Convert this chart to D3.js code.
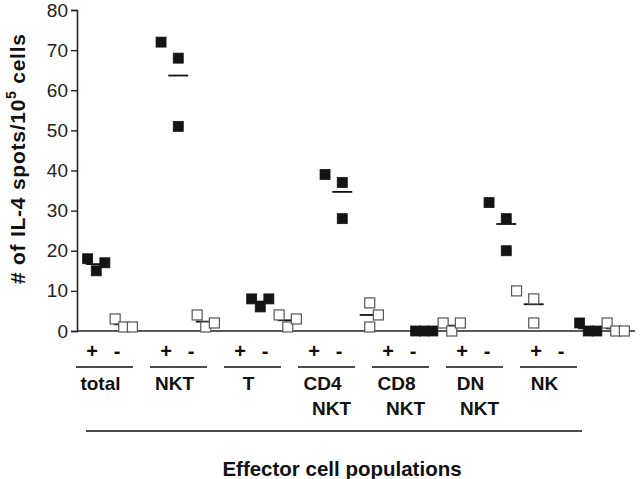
<!DOCTYPE html>
<html>
<head>
<meta charset="utf-8">
<script src="https://cdn.jsdelivr.net/npm/d3@7"></script>
<style>
  html, body { margin: 0; padding: 0; background: #fff; }
  svg { display: block; font-family: "Liberation Sans", Arial, sans-serif; }
</style>
</head>
<body>
<svg id="chart" width="640" height="479"></svg>
<script>
// ---- data ----
const groups = ["total", "NKT", "T", "CD4 NKT", "CD8 NKT", "DN NKT", "NK"];
const labelLine1 = ["total", "NKT", "T", "CD4", "CD8", "DN", "NK"];
const labelLine2 = ["", "", "", "NKT", "NKT", "NKT", ""];
const treatments = ["+", "-"];
const plusValues  = [[18, 15, 17], [72, 68, 51], [8, 6, 8], [39, 37, 28], [0, 0, 0], [32, 28, 20], [2, 0, 0]];
const minusValues = [[3, 1, 1], [4, 1, 2], [4, 1, 3], [7, 4, 1], [2, 0, 2], [10, 8, 2], [2, 0, 0]];
// horizontal spread rank of each point inside its column (scatter-dot layout)
const plusSpread  = [[-1, 0, 1], [-2, 0, 0], [-1, 0, 1], [-2, 0, 0], [-1, 0, 1], [-2, 0, 0], [-1, 0, 1]];
const minusSpread = [[-1, 0, 1], [-1, 0, 1], [-1, 0, 1], [0, 1, 0], [-1, 0, 1], [-2, 0, 0], [-1, 0, 1]];
const yTicks = [0, 10, 20, 30, 40, 50, 60, 70, 80];
const yTitle = ["# of IL-4 spots/10", "5", " cells"];
const xTitle = "Effector cell populations";

// ---- build records ----
const columns = [];
groups.forEach((g, i) => {
  columns.push({ group: g, treat: "+", values: plusValues[i], spread: plusSpread[i] });
  columns.push({ group: g, treat: "-", values: minusValues[i], spread: minusSpread[i] });
});

const svg = d3.select("#chart");
const font = '"Liberation Sans", Arial, sans-serif';

// ---- scales ----
const y = d3.scaleLinear().domain([0, 80]).range([331, 10]);
const xGroup = d3.scalePoint().domain(groups).range([110, 602]);
const xTreat = d3.scalePoint().domain(treatments).range([-13.75, 13.75]);
const xSpread = d3.scaleLinear().domain([-1, 1]).range([-8.6, 8.6]);
const colX = c => xGroup(c.group) + xTreat(c.treat);

// label row scales (annotation placed separately under the axis)
const xLabelGroup = d3.scalePoint().domain(groups).range([104.5, 548.5]);
const xLabelTreat = d3.scalePoint().domain(treatments).range([-12.5, 12.5]);

// ---- axes ----
const yAxis = d3.axisLeft(y).tickValues(yTicks).tickSize(6).tickPadding(3);
const gy = svg.append("g").attr("transform", "translate(77,0)").call(yAxis);
gy.select(".domain").attr("stroke", "#222").attr("stroke-width", 1.6);
gy.selectAll(".tick line").attr("stroke", "#222").attr("stroke-width", 1.4);
gy.selectAll(".tick text").attr("font-size", 19).attr("font-family", font).attr("fill", "#222");

// x axis baseline (no ticks)
const xLine = d3.scaleLinear().domain([0, 1]).range([77, 635]);
svg.append("line")
  .attr("x1", xLine(0)).attr("x2", xLine(1))
  .attr("y1", y(0)).attr("y2", y(0))
  .attr("stroke", "#222").attr("stroke-width", 1.6);

// ---- mean lines ----
svg.append("g").selectAll("line").data(columns).join("line")
  .attr("x1", c => colX(c) - 10).attr("x2", c => colX(c) + 10)
  .attr("y1", c => y(d3.mean(c.values))).attr("y2", c => y(d3.mean(c.values)))
  .attr("stroke", "#111").attr("stroke-width", 1.8);

// ---- points ----
const pts = [];
columns.forEach(c => c.values.forEach((v, k) => pts.push({ c, v, s: c.spread[k] })));
const sz = 10;
svg.append("g").selectAll("rect").data(pts).join("rect")
  .attr("x", d => colX(d.c) + xSpread(d.s) - sz / 2)
  .attr("y", d => y(d.v) - sz / 2)
  .attr("width", sz).attr("height", sz)
  .attr("fill", d => d.c.treat === "+" ? "#141414" : "#fff")
  .attr("stroke", d => d.c.treat === "+" ? "#141414" : "#555")
  .attr("stroke-width", d => d.c.treat === "+" ? 0.8 : 1.2);

// ---- category annotation ----
const ann = svg.append("g").attr("font-family", font).attr("font-weight", "bold").attr("fill", "#111");
groups.forEach((g, i) => {
  treatments.forEach(t => {
    ann.append("text")
      .attr("x", xLabelGroup(g) + xLabelTreat(t)).attr("y", 358)
      .attr("text-anchor", "middle").attr("font-size", 20).text(t);
  });
  ann.append("line")
    .attr("x1", xLabelGroup(g) - 28.5).attr("x2", xLabelGroup(g) + 28.5)
    .attr("y1", 367).attr("y2", 367)
    .attr("stroke", "#111").attr("stroke-width", 1.5);
  ann.append("text")
    .attr("x", xLabelGroup(g) - 4).attr("y", 389.5)
    .attr("text-anchor", "middle").attr("font-size", 19).text(labelLine1[i]);
  if (labelLine2[i]) {
    ann.append("text")
      .attr("x", xLabelGroup(g) + 5).attr("y", 415)
      .attr("text-anchor", "middle").attr("font-size", 19).text(labelLine2[i]);
  }
});

// long bracket line
svg.append("line")
  .attr("x1", 86).attr("x2", 582).attr("y1", 431).attr("y2", 431)
  .attr("stroke", "#111").attr("stroke-width", 1.5);

// x title
svg.append("text")
  .attr("x", 342).attr("y", 476)
  .attr("text-anchor", "middle")
  .attr("font-family", font).attr("font-weight", "bold").attr("font-size", 20.5)
  .attr("fill", "#111").text(xTitle);

// y title
const yt = svg.append("text")
  .attr("transform", "translate(25,159) rotate(-90)")
  .attr("text-anchor", "middle")
  .attr("font-family", font).attr("font-weight", "bold").attr("font-size", 21)
  .attr("textLength", 250).attr("lengthAdjust", "spacing")
  .attr("fill", "#111");
yt.append("tspan").text(yTitle[0]);
yt.append("tspan").attr("font-size", 14).attr("dy", -9).text(yTitle[1]);
yt.append("tspan").attr("dy", 9).text(yTitle[2]);
</script>
</body>
</html>
